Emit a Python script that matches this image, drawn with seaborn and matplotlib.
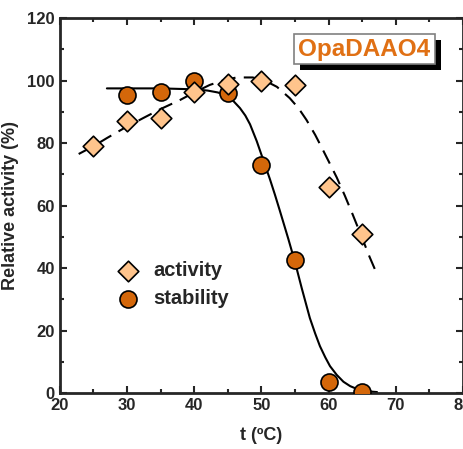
import numpy as np
import pandas as pd
import matplotlib
matplotlib.use("Agg")
import matplotlib.pyplot as plt
import seaborn as sns
from matplotlib.ticker import MultipleLocator

# measured points
temp = [25, 30, 35, 40, 45, 50, 55, 60, 65]
activity = [79, 87, 88, 96.5, 99, 100, 98.5, 66, 51]
stab_temp = [30, 35, 40, 45, 50, 55, 60, 65]
stability = [95.5, 96.5, 100, 96, 73, 42.5, 3.5, 0.3]

# fitted curves
fit_act_x = [22.8, 25.0, 27.0, 29.5, 32.4, 35.0, 37.9, 40.0, 42.3, 44.5, 46.3,
             48.7, 50.5, 52.3, 54.2, 55.5, 56.7, 58.0, 59.1, 60.2, 61.2,
             62.4, 63.6, 65.0, 66.1, 67.2]
fit_act_y = [76.5, 79.0, 81.6, 84.7, 88.0, 90.9, 93.8, 96.2, 98.6, 100.2, 101.0,
             101.0, 100.0, 98.0, 94.4, 91.2, 87.4, 82.6, 78.0, 73.3, 69.0,
             63.2, 57.0, 49.5, 43.5, 38.0]
fit_stab_x = [27.0, 35.0, 40.0, 42.0, 43.5, 44.8, 45.8, 46.8, 47.6, 48.3, 49.3,
              50.2, 51.25, 52.0, 52.7, 53.4, 54.0, 55.0, 56.0, 57.2, 58.0,
              58.7, 59.5, 60.2, 61.2, 62.2, 63.2, 64.2, 65.3, 66.6, 67.2]
fit_stab_y = [97.5, 97.5, 97.2, 96.8, 96.2, 95.2, 93.5, 91.2, 88.8, 86.0, 80.6,
              75.0, 68.5, 63.5, 58.6, 53.6, 49.3, 41.8, 33.5, 24.0, 19.0,
              15.0, 11.4, 8.6, 5.8, 3.6, 2.2, 1.3, 0.7, 0.4, 0.3]

act_color = "#ffc48c"
stab_color = "#d4670a"
label_color = "#e07014"

sns.set_style("ticks")
plt.rcParams['font.family'] = ['Liberation Sans', 'DejaVu Sans']
plt.rcParams['font.weight'] = 'bold'

fig = plt.figure(figsize=(4.64, 4.49), dpi=100)
ax = fig.add_axes([0.129, 0.1247, 0.869, 0.835])

sns.lineplot(x=fit_act_x, y=fit_act_y, ax=ax, color="black", linewidth=1.5,
             sort=False, zorder=2)
ax.lines[-1].set_dashes([7, 4])
sns.lineplot(x=fit_stab_x, y=fit_stab_y, ax=ax, color="black", linewidth=1.5,
             sort=False, zorder=2)

sns.scatterplot(x=stab_temp, y=stability, ax=ax, marker="o", s=150,
                color=stab_color, edgecolor="black", linewidth=1.2,
                label="stability", zorder=3)
sns.scatterplot(x=temp, y=activity, ax=ax, marker="D", s=110,
                color=act_color, edgecolor="black", linewidth=1.2,
                label="activity", zorder=4)

handles, labels = ax.get_legend_handles_labels()
order = [labels.index("activity"), labels.index("stability")]
ax.legend([handles[i] for i in order], [labels[i] for i in order],
          loc="upper left", bbox_to_anchor=(0.085, 0.39), frameon=False,
          fontsize=14.5, handletextpad=0.25, labelspacing=0.45, borderpad=0.2)

ax.set_xlim(20, 80)
ax.set_ylim(0, 120)
ax.xaxis.set_major_locator(MultipleLocator(10))
ax.xaxis.set_minor_locator(MultipleLocator(5))
ax.yaxis.set_major_locator(MultipleLocator(20))
ax.yaxis.set_minor_locator(MultipleLocator(10))
ax.tick_params(which="both", direction="in", top=True, right=True,
               width=1.5, labelsize=12)
ax.tick_params(which="major", length=5)
ax.tick_params(which="minor", length=3)
for s in ax.spines.values():
    s.set_linewidth(2)
    s.set_visible(True)

ax.set_xlabel("t (\u00baC)", fontsize=13, fontweight="bold", labelpad=10)
ax.set_ylabel("Relative activity (%)", fontsize=13, fontweight="bold", labelpad=6)

# label box with drop shadow
bx, by, bw, bh = 0.581, 0.8765, 0.349, 0.080
ax.add_patch(plt.Rectangle((bx + 0.015, by - 0.016), bw, bh, transform=ax.transAxes,
                           facecolor="black", edgecolor="none", zorder=5))
ax.add_patch(plt.Rectangle((bx, by), bw, bh, transform=ax.transAxes,
                           facecolor="white", edgecolor="#808080", linewidth=1.2,
                           zorder=6))
ax.text(bx + bw / 2, by + bh / 2, "OpaDAAO4", transform=ax.transAxes,
        ha="center", va="center", fontsize=17.5, fontweight="bold",
        color=label_color, zorder=7)

fig.savefig("out.png", dpi=100)
